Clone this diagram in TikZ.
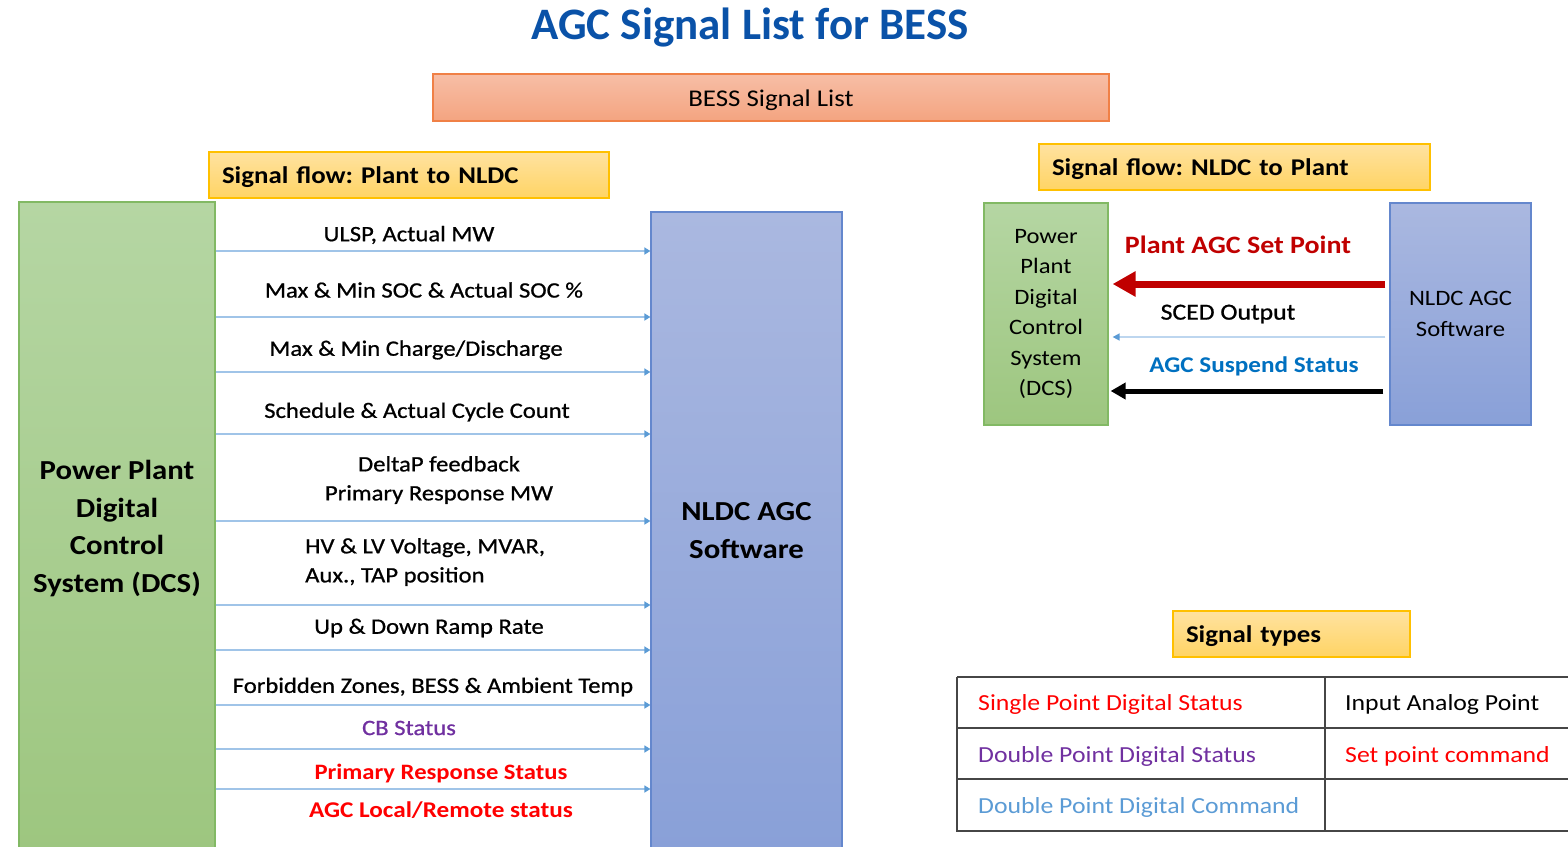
\documentclass[tikz,border=0pt]{standalone}
\usepackage{fontspec}
\setmainfont{Carlito}
\newfontfamily\wf[FakeStretch=1.12]{Carlito}
\newfontfamily\mf[FakeStretch=1.12, FakeBold=0.8]{Carlito}
\usetikzlibrary{arrows.meta}

\definecolor{titleblue}{RGB}{10,82,168}
\definecolor{salmontop}{RGB}{247,190,166}
\definecolor{salmonbot}{RGB}{244,164,128}
\definecolor{salmonline}{RGB}{240,128,70}
\definecolor{yellowtop}{RGB}{255,226,160}
\definecolor{yellowbot}{RGB}{255,212,100}
\definecolor{yellowline}{RGB}{255,192,0}
\definecolor{greentop}{RGB}{181,214,163}
\definecolor{greenbot}{RGB}{157,198,127}
\definecolor{greenline}{RGB}{130,185,100}
\definecolor{bluetop}{RGB}{170,184,224}
\definecolor{bluebot}{RGB}{137,160,216}
\definecolor{blueline}{RGB}{100,135,205}
\definecolor{flowline}{RGB}{160,196,232}
\definecolor{flowtip}{RGB}{91,155,213}
\definecolor{sigred}{RGB}{255,0,0}
\definecolor{darkred}{RGB}{192,0,0}
\definecolor{sigpurple}{RGB}{112,48,160}
\definecolor{sigblue}{RGB}{0,112,192}
\definecolor{lightblue}{RGB}{91,155,213}
\definecolor{gridgray}{RGB}{70,70,70}

\begin{document}
\frenchspacing
\begin{tikzpicture}[x=1pt, y=-1pt, inner sep=0pt,
	title/.style={font=\fontsize{45}{50}\selectfont\bfseries, text=titleblue},
	listbox/.style={draw=salmonline, line width=1.2pt, top color=salmontop, bottom color=salmonbot, font=\wf\fontsize{24}{28}\selectfont, text height=22pt, text depth=5pt},
	flowhead/.style={draw=yellowline, line width=1.2pt, top color=yellowtop, bottom color=yellowbot, font=\wf\fontsize{24}{28}\selectfont\bfseries, align=left, text height=22pt, text depth=5pt},
	plantbox/.style={draw=greenline, line width=1.2pt, top color=greentop, bottom color=greenbot, align=center},
	agcbox/.style={draw=blueline, line width=1.2pt, top color=bluetop, bottom color=bluebot, align=center},
	sig/.style={font=\mf\fontsize{22}{29}\selectfont, align=center},
	sigbold/.style={font=\wf\fontsize{22}{29}\selectfont\bfseries, align=center},
	cell/.style={font=\wf\fontsize{23}{26}\selectfont, anchor=west},
	flow/.style={draw=flowline, line width=1.5pt, -{Triangle[length=6pt, width=7pt, color=flowtip]}}]
	\clip (0,0) rectangle (1568,846);

	\node[title](title) at (750,28) {AGC Signal List for BESS};
	\node[listbox, minimum width=676pt, minimum height=47pt](bess) at (771,97.5) {BESS Signal List};

	% plant to NLDC
	\node[flowhead, text width=374pt, inner xsep=13pt, minimum height=46pt](head1) at (409,175) {Signal flow: Plant to NLDC};
	\node[plantbox, minimum width=196pt, minimum height=653pt, font=\wf\fontsize{27.5}{37.5}\selectfont\bfseries](dcs) at (117,528.5) {Power Plant\\Digital\\Control\\System (DCS)};
	\node[agcbox, minimum width=191pt, minimum height=638pt, font=\wf\fontsize{27.5}{38}\selectfont\bfseries](nldc) at (746.5,531) {NLDC AGC\\Software};

	\node[sig](s1) at (409,235) {ULSP, Actual MW};
	\node[sig](s2) at (424,290) {Max \& Min SOC \& Actual SOC \%};
	\node[sig](s3) at (416,350) {Max \& Min Charge/Discharge};
	\node[sig](s4) at (417,412) {Schedule \& Actual Cycle Count};
	\node[sig](s5) at (439,480) {DeltaP feedback\\Primary Response MW};
	\node[sig, align=left, anchor=west](s6) at (305,562) {HV \& LV Voltage, MVAR,\\Aux., TAP position};
	\node[sig](s7) at (429,628) {Up \& Down Ramp Rate};
	\node[sig](s8) at (433,687) {Forbidden Zones, BESS \& Ambient Temp};
	\node[sig, text=sigpurple](s9) at (409,728) {CB Status};
	\node[sigbold, text=sigred](s10) at (441,773) {Primary Response Status};
	\node[sigbold, text=sigred, font=\wf\fontsize{22.5}{29}\selectfont\bfseries](s11) at (441,810) {AGC Local/Remote status};

	\draw[flow] (dcs.east |- 0,251) -- (nldc.west |- 0,251);
	\draw[flow] (dcs.east |- 0,317) -- (nldc.west |- 0,317);
	\draw[flow] (dcs.east |- 0,372) -- (nldc.west |- 0,372);
	\draw[flow] (dcs.east |- 0,434) -- (nldc.west |- 0,434);
	\draw[flow] (dcs.east |- 0,521) -- (nldc.west |- 0,521);
	\draw[flow] (dcs.east |- 0,605) -- (nldc.west |- 0,605);
	\draw[flow] (dcs.east |- 0,650) -- (nldc.west |- 0,650);
	\draw[flow] (dcs.east |- 0,705) -- (nldc.west |- 0,705);
	\draw[flow] (dcs.east |- 0,749) -- (nldc.west |- 0,749);
	\draw[flow] (dcs.east |- 0,789) -- (nldc.west |- 0,789);

	% NLDC to plant
	\node[flowhead, text width=365pt, inner xsep=13pt, minimum height=46pt](head2) at (1234.5,167) {Signal flow: NLDC to Plant};
	\node[plantbox, minimum width=124pt, minimum height=222pt, font=\wf\fontsize{22}{30.5}\selectfont](dcs2) at (1046,314) {Power\\Plant\\Digital\\Control\\System\\(DCS)};
	\node[agcbox, minimum width=141pt, minimum height=222pt, font=\wf\fontsize{22}{30.5}\selectfont](nldc2) at (1460.5,314) {NLDC AGC\\Software};

	\node[sigbold, text=darkred, font=\wf\fontsize{25}{29}\selectfont\bfseries](setpt) at (1238,245) {Plant AGC Set Point};
	\node[sig, font=\mf\fontsize{23}{29}\selectfont](sced) at (1228,314) {SCED Output};
	\node[sigbold, text=sigblue, font=\wf\fontsize{22.5}{29}\selectfont\bfseries](susp) at (1254,366) {AGC Suspend Status};

	\draw[draw=darkred, line width=7pt, shorten <=4pt, shorten >=4pt, -{Triangle[length=23pt, width=24pt]}] (nldc2.west |- 0,284) -- (dcs2.east |- 0,284);
	\draw[draw=flowline!70, line width=1.5pt, shorten <=4pt, shorten >=4pt, -{Triangle[length=7pt, width=7pt, color=flowtip]}] (nldc2.west |- 0,337) -- (dcs2.east |- 0,337);
	\draw[draw=black, line width=5pt, shorten <=6pt, shorten >=2pt, -{Triangle[length=15pt, width=16pt]}] (nldc2.west |- 0,391) -- (dcs2.east |- 0,391);

	% signal types
	\node[flowhead, text width=211pt, inner xsep=13pt, minimum height=46pt](head3) at (1291.5,634) {Signal types};
	\coordinate (t1) at (957,677);
	\coordinate (t2) at (1568,831);
	\draw[gridgray, line width=1.5pt] (t1) -- (t1 |- t2) -- (t2);
	\draw[gridgray, line width=1.5pt] (t1) -- (t1 -| t2);
	\draw[gridgray, line width=1.5pt] (957,728) -- (1568,728);
	\draw[gridgray, line width=1.5pt] (957,779) -- (1568,779);
	\draw[gridgray, line width=1.5pt] (1325,677) -- (1325,831);
	\node[cell, text=sigred](c1) at (978,704) {Single Point Digital Status};
	\node[cell](c2) at (1345,704) {Input Analog Point};
	\node[cell, text=sigpurple](c3) at (978,756) {Double Point Digital Status};
	\node[cell, text=sigred](c4) at (1345,756) {Set point command};
	\node[cell, text=lightblue](c5) at (978,807) {Double Point Digital Command};
\end{tikzpicture}
\end{document}
